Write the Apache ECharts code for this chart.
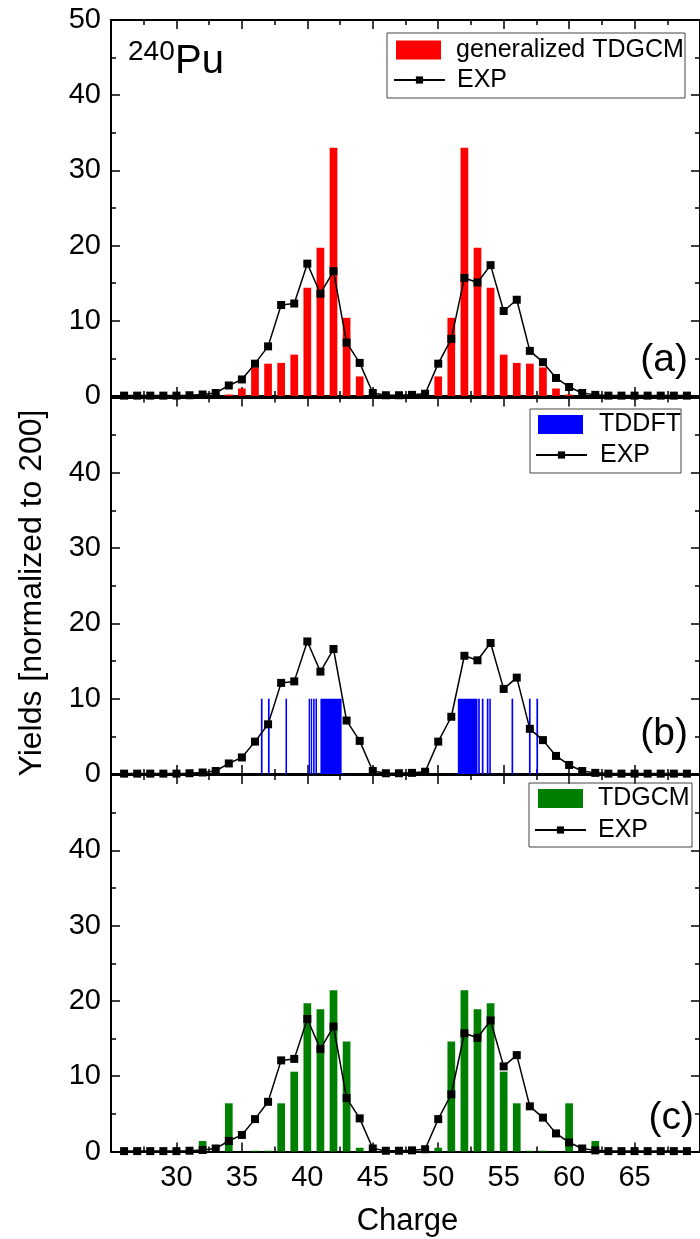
<!DOCTYPE html>
<html>
<head>
<meta charset="utf-8">
<script src="https://cdn.jsdelivr.net/npm/echarts@6/dist/echarts.min.js"></script>
<style>
html,body{margin:0;padding:0;background:#fff;}
#chart{width:700px;height:1239px;}
</style>
</head>
<body>
<div id="chart"></div>
<script>
// ---------------- data ----------------
const expCharge = [26,27,28,29,30,31,32,33,34,35,36,37,38,39,40,41,42,43,44,45,46,47,48,49,50,51,52,53,54,55,56,57,58,59,60,61,62,63,64,65,66,67,68,69];
const expYield  = [0.05,0.05,0.05,0.05,0.05,0.1,0.2,0.4,1.4,2.2,4.3,6.6,12.1,12.3,17.6,13.6,16.6,7.1,4.4,0.4,0.1,0.1,0.15,0.3,4.3,7.6,15.7,15.1,17.4,11.3,12.8,6.0,4.5,2.4,1.2,0.4,0.15,0.05,0.05,0.05,0.05,0.05,0.05,0.05];

const genCharge = [34,35,36,37,38,39,40,41,42,43,44,45,46,47,48,49,50,51,52,53,54,55,56,57,58,59,60];
const genYield  = [0.2,1.0,3.8,4.3,4.4,5.5,14.4,19.7,33.0,10.4,2.6,0,0,0,0,0,2.6,10.4,33.0,19.7,14.4,5.5,4.4,4.3,3.8,1.0,0.2];

const tdgcmCharge = [32,33,34,35,36,37,38,39,40,41,42,43,44,45,46,47,48,49,50,51,52,53,54,55,56,57,58,59,60,61,62];
const tdgcmYield  = [1.4,0,6.4,0,0.1,0.1,6.4,10.6,19.7,18.9,21.4,14.6,0.5,0,0,0,0,0,0.5,14.6,21.4,18.9,19.7,10.6,6.4,0.1,0.1,0,6.4,0,1.4];

// TDDFT fragments: charge interval start, end, yield
const tddftStart = [36.45,36.99,38.33,40.10,40.27,40.44,40.62,41.00,51.50,53.05,53.33,53.71,53.90,55.60,56.93,57.50];
const tddftEnd   = [36.58,37.12,38.45,40.22,40.37,40.56,40.74,42.62,53.00,53.18,53.46,53.84,54.02,55.73,57.06,57.63];
const tddftYield = [10,10,10,10,10,10,10,10,10,10,10,10,10,10,10,10];

const xMin = 25, xMax = 70, xStep = 5;
const yMin = 0, yMax = 50, yStep = 10;
const panelTags = ['(a)','(b)','(c)'];
const modelNames = ['generalized TDGCM','TDDFT','TDGCM'];
const modelColors = ['#ff0000','#0000ff','#008000'];

// ---------------- layout ----------------
const FONT = '"Liberation Sans", Arial, Helvetica, sans-serif';
const grids = [
  {left:111, top:20,    width:590, height:376},
  {left:111, top:397.5, width:590, height:376.5},
  {left:111, top:775,   width:590, height:376.5}
];

const axisLine = {show:true, onZero:false, lineStyle:{color:'#000', width:2}};
const axisTick = {show:true, inside:true, length:9, lineStyle:{color:'#000', width:1.5}};
const minorTick = {show:true, splitNumber:2, length:5, lineStyle:{color:'#000', width:1.5}};

const xAxes = [], yAxes = [], series = [];
grids.forEach((g, i) => {
  ['bottom','top'].forEach(pos => {
    xAxes.push({
      gridIndex:i, type:'value', position:pos, min:xMin, max:xMax, interval:xStep,
      axisLine, axisTick, minorTick, splitLine:{show:false},
      axisLabel:{show: pos==='bottom' && i===2, showMinLabel:false, showMaxLabel:false,
        margin:12, color:'#000', fontSize:29, fontFamily:FONT}
    });
  });
  ['left','right'].forEach(pos => {
    yAxes.push({
      gridIndex:i, type:'value', position:pos, min:yMin, max:yMax, interval:yStep,
      axisLine, axisTick, minorTick, splitLine:{show:false},
      axisLabel:{show: pos==='left', showMaxLabel: i===0, margin:10,
        color:'#000', fontSize:29, fontFamily:FONT}
    });
  });
});

// model series
series.push({
  name:modelNames[0], type:'bar', xAxisIndex:0, yAxisIndex:0, barWidth:7.7,
  itemStyle:{color:modelColors[0]},
  data: genCharge.map((c,k)=>[c, genYield[k]]), z:2
});
series.push({
  name:modelNames[1], type:'custom', xAxisIndex:2, yAxisIndex:2,
  itemStyle:{color:modelColors[1]},
  encode:{x:[0,1], y:2},
  renderItem:(params, api) => {
    const p0 = api.coord([api.value(0), api.value(2)]);
    const p1 = api.coord([api.value(1), 0]);
    return {type:'rect', shape:{x:p0[0], y:p0[1], width:p1[0]-p0[0], height:p1[1]-p0[1]},
      style:{fill:modelColors[1]}};
  },
  data: tddftStart.map((s,k)=>[s, tddftEnd[k], tddftYield[k]]), z:2
});
series.push({
  name:modelNames[2], type:'bar', xAxisIndex:4, yAxisIndex:4, barWidth:7.7,
  itemStyle:{color:modelColors[2]},
  data: tdgcmCharge.map((c,k)=>[c, tdgcmYield[k]]), z:2
});
// EXP in each panel
grids.forEach((g,i) => {
  series.push({
    name:'EXP', type:'line', xAxisIndex:2*i, yAxisIndex:2*i,
    symbol:'rect', symbolSize:8,
    itemStyle:{color:'#000'}, lineStyle:{color:'#000', width:1.5},
    data: expCharge.map((c,k)=>[c, expYield[k]]), z:5
  });
});

// legends (model patch row + EXP row), plus frame
const legendSpecs = [
  {box:[387,33,298,65],  patchLeft:396, row1:50,    padP:10, expLeft:393, row2:80,  padE:7},
  {box:[530,409,151,64], patchLeft:538, row1:424.5, padP:11, expLeft:535, row2:455, padE:8},
  {box:[529,783,163,64], patchLeft:538, row1:798.5, padP:10, expLeft:534, row2:830, padE:7}
];
const LEGFS = 25;
const legends = [];
const graphics = [];
legendSpecs.forEach((L,i) => {
  legends.push({
    data:[{name:modelNames[i], icon:'rect'}], selectedMode:false,
    left:L.patchLeft, top:L.row1 - LEGFS/2, padding:0,
    itemWidth:45, itemHeight:19,
    textStyle:{fontSize:LEGFS, lineHeight:LEGFS, color:'#000', fontFamily:FONT, padding:[0,0,0,L.padP]}
  });
  legends.push({
    data:['EXP'], selectedMode:false,
    left:L.expLeft, top:L.row2 - LEGFS/2, padding:0,
    itemWidth:51, itemHeight:9,
    textStyle:{fontSize:LEGFS, lineHeight:LEGFS, color:'#000', fontFamily:FONT, padding:[0,0,0,L.padE]}
  });
  graphics.push({type:'rect', shape:{x:L.box[0], y:L.box[1], width:L.box[2], height:L.box[3]},
    style:{fill:'none', stroke:'#444', lineWidth:1}, z:10});
});

// panel tags
const tagPos = [[688,360.6],[688,734.6],[694,1118.6]];
panelTags.forEach((t,i)=>{
  graphics.push({type:'text', x:tagPos[i][0], y:tagPos[i][1], z:10,
    style:{text:t, font:'39px '+FONT, fill:'#000', align:'right', verticalAlign:'middle'}});
});
// nucleus label
graphics.push({type:'text', x:128, y:52.3, z:10,
  style:{text:'240', font:'28px '+FONT, fill:'#000', align:'left', verticalAlign:'middle'}});
graphics.push({type:'text', x:175, y:62.1, z:10,
  style:{text:'Pu', font:'40px '+FONT, fill:'#000', align:'left', verticalAlign:'middle'}});
// axis titles
graphics.push({type:'text', x:32.5, y:593, rotation:Math.PI/2, z:10,
  style:{text:'Yields [normalized to 200]', font:'32px '+FONT, fill:'#000', align:'center', verticalAlign:'middle'}});
graphics.push({type:'text', x:407.5, y:1221, z:10,
  style:{text:'Charge', font:'31px '+FONT, fill:'#000', align:'center', verticalAlign:'middle'}});

const chart = echarts.init(document.getElementById('chart'), null, {renderer:'canvas'});
chart.setOption({
  animation:false,
  backgroundColor:'#fff',
  grid: grids,
  xAxis: xAxes,
  yAxis: yAxes,
  legend: legends,
  series: series,
  graphic: graphics
});
</script>
</body>
</html>
